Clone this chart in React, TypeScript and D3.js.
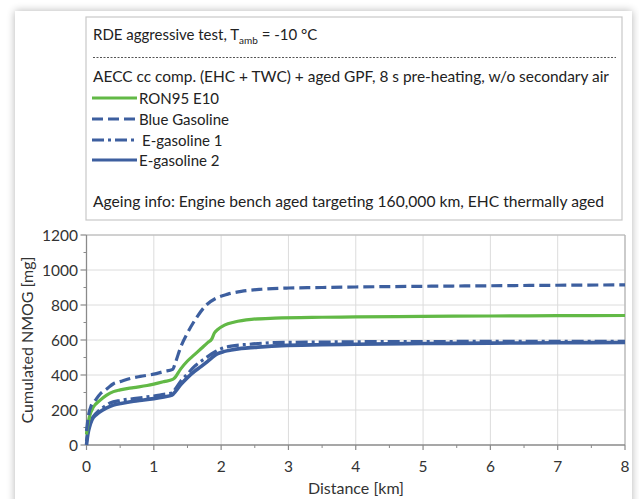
import React from "react";
import * as d3 from "d3";

type P = [number, number];

const xTicks = [0, 1, 2, 3, 4, 5, 6, 7, 8];
const yTicks = [0, 200, 400, 600, 800, 1000, 1200];

const ron95E10: P[] = [
  [0, 60], [0.005, 80], [0.02, 115], [0.05, 170], [0.1, 215], [0.2, 255], [0.3, 285], [0.4, 305],
  [0.5, 315], [0.7, 328], [0.9, 340], [1.0, 348], [1.15, 362], [1.28, 375], [1.3, 380],
  [1.4, 435], [1.5, 480], [1.6, 515], [1.7, 550], [1.8, 585], [1.86, 605], [1.9, 640],
  [1.95, 660], [2.05, 685], [2.2, 703], [2.45, 718], [2.8, 725], [3.5, 730], [4, 732],
  [5, 735], [6, 737], [7, 739], [8, 740],
];

const blueGasoline: P[] = [
  [0, 80], [0.03, 170], [0.07, 225], [0.12, 250], [0.2, 290], [0.3, 320], [0.4, 350],
  [0.5, 362], [0.65, 380], [0.8, 392], [1.0, 405], [1.15, 420], [1.28, 432], [1.32, 470],
  [1.4, 560], [1.5, 640], [1.63, 725], [1.78, 800], [1.93, 840], [2.1, 862], [2.3, 878],
  [2.6, 890], [3.0, 897], [3.5, 900], [4, 903], [5, 907], [6, 910], [7, 913], [8, 915],
];

const eGasoline1: P[] = [
  [0, 20], [0.02, 80], [0.05, 130], [0.1, 162], [0.18, 195], [0.25, 215], [0.35, 240],
  [0.5, 255], [0.7, 265], [0.9, 275], [1.0, 280], [1.15, 290], [1.28, 298], [1.32, 320],
  [1.4, 365], [1.5, 405], [1.6, 448], [1.7, 478], [1.8, 505], [1.9, 530], [2.0, 550],
  [2.15, 565], [2.4, 575], [2.8, 585], [3.5, 588], [4, 590], [5, 591], [6, 592], [7, 592], [8, 593],
];

const eGasoline2: P[] = [
  [0, 0], [0.02, 60], [0.05, 110], [0.08, 143], [0.15, 175], [0.2, 190], [0.3, 212],
  [0.4, 228], [0.55, 240], [0.7, 250], [0.85, 257], [1.0, 265], [1.15, 275], [1.27, 285],
  [1.32, 305], [1.4, 345], [1.5, 385], [1.6, 419], [1.7, 448], [1.8, 478], [1.9, 510],
  [1.95, 522], [2.05, 535], [2.15, 543], [2.3, 552], [2.5, 558], [2.9, 568], [3.5, 573],
  [4, 576], [5, 580], [6, 582], [7, 584], [8, 586],
];

const GREEN = "#62b946";
const BLUE = "#3d5f9f";

const series = [
  { name: "RON95 E10", data: ron95E10, color: GREEN, dash: "none" },
  { name: "Blue Gasoline", data: blueGasoline, color: BLUE, dash: "11,5" },
  { name: "E-gasoline 1", data: eGasoline1, color: BLUE, dash: "12,4,3,4" },
  { name: "E-gasoline 2", data: eGasoline2, color: BLUE, dash: "none" },
];

const FONT = "Lato, 'Open Sans', sans-serif";

export default function App() {
  const W = 639, H = 499;
  const x = d3.scaleLinear().domain([0, 8]).range([86.5, 625]);
  const y = d3.scaleLinear().domain([0, 1200]).range([445, 235]);
  const line = d3.line<P>().x((d) => x(d[0])).y((d) => y(d[1])).curve(d3.curveMonotoneX);

  const xMinor = d3.range(0.5, 8, 1);
  const yMinor = d3.range(100, 1200, 200);

  const legendRows = [98, 119, 140, 160];
  const drawOrder = [3, 2, 0, 1];

  return (
    <svg width={W} height={H} style={{ position: "absolute", left: 0, top: 0 }} fontFamily={FONT}>
      <defs>
        <filter id="shadow" x="-5%" y="-5%" width="110%" height="110%">
          <feGaussianBlur in="SourceAlpha" stdDeviation="4" />
          <feOffset dx="0" dy="0" result="b" />
          <feComponentTransfer>
            <feFuncA type="linear" slope="0.3" />
          </feComponentTransfer>
          <feMerge>
            <feMergeNode />
            <feMergeNode in="SourceGraphic" />
          </feMerge>
        </filter>
      </defs>
      <rect x={0} y={0} width={W} height={H} fill="#ffffff" />
      <rect x={15} y={11} width={617} height={520} fill="#ffffff" filter="url(#shadow)" />

      {/* Legend box */}
      <rect x={86} y={17} width={536} height={203} fill="#fff" stroke="#c8c8c8" strokeWidth={1.2} />
      <text x={93} y={40} fontSize={15} fill="#222">
        RDE aggressive test, T
        <tspan fontSize={10} dy={4}>amb</tspan>
        <tspan dy={-4}> = -10 °C</tspan>
      </text>
      <line x1={93} x2={616} y1={57.5} y2={57.5} stroke="#555" strokeWidth={1} strokeDasharray="2,1.5" />
      <text x={93} y={82} fontSize={15} fill="#222" textLength={516} lengthAdjust="spacingAndGlyphs">
        AECC cc comp. (EHC + TWC) + aged GPF, 8 s pre-heating, w/o secondary air
      </text>
      {series.map((s, i) => (
        <g key={s.name}>
          <line x1={92} x2={137} y1={legendRows[i]} y2={legendRows[i]} stroke={s.color}
            strokeWidth={3.2} strokeDasharray={s.dash === "none" ? undefined : s.dash} />
          <text x={i === 2 ? 142 : 139} y={legendRows[i] + 5.5} fontSize={15} fill="#222">{s.name}</text>
        </g>
      ))}
      <text x={93} y={207} fontSize={15} fill="#222" textLength={511} lengthAdjust="spacingAndGlyphs">
        Ageing info: Engine bench aged targeting 160,000 km, EHC thermally aged
      </text>

      {/* Grid */}
      {xTicks.slice(1).map((t) => (
        <line key={"gx" + t} x1={x(t)} x2={x(t)} y1={y(1200)} y2={y(0)} stroke="#dcdcdc" strokeWidth={1} />
      ))}
      {yTicks.slice(1).map((t) => (
        <line key={"gy" + t} x1={x(0)} x2={x(8)} y1={y(t)} y2={y(t)} stroke="#dcdcdc" strokeWidth={1} />
      ))}
      <line x1={x(0)} x2={x(8)} y1={y(1200)} y2={y(1200)} stroke="#b4b4b4" strokeWidth={1.2} />
      <line x1={x(8)} x2={x(8)} y1={y(1200)} y2={y(0)} stroke="#b4b4b4" strokeWidth={1.2} />

      {/* Axes */}
      <line x1={x(0)} x2={x(0)} y1={y(1200)} y2={y(0)} stroke="#8a8a8a" strokeWidth={1.3} />
      <line x1={x(0)} x2={x(8)} y1={y(0)} y2={y(0)} stroke="#8a8a8a" strokeWidth={1.3} />
      {yTicks.map((t) => (
        <line key={"ty" + t} x1={x(0) - 6} x2={x(0)} y1={y(t)} y2={y(t)} stroke="#8a8a8a" strokeWidth={1.2} />
      ))}
      {yMinor.map((t) => (
        <line key={"tym" + t} x1={x(0) - 3} x2={x(0)} y1={y(t)} y2={y(t)} stroke="#8a8a8a" strokeWidth={1} />
      ))}
      {xTicks.map((t) => (
        <line key={"tx" + t} x1={x(t)} x2={x(t)} y1={y(0)} y2={y(0) + 5} stroke="#8a8a8a" strokeWidth={1.2} />
      ))}
      {xMinor.map((t) => (
        <line key={"txm" + t} x1={x(t)} x2={x(t)} y1={y(0)} y2={y(0) + 3} stroke="#8a8a8a" strokeWidth={1} />
      ))}
      {yTicks.map((t) => (
        <text key={"ly" + t} x={78} y={y(t) + 5.5} fontSize={15.5} textAnchor="end" fill="#333">{t}</text>
      ))}
      {xTicks.map((t) => (
        <text key={"lx" + t} x={x(t)} y={472} fontSize={15.5} textAnchor="middle" fill="#333">{t}</text>
      ))}
      <text x={356} y={494} fontSize={16} textAnchor="middle" fill="#333">Distance [km]</text>
      <text transform={`translate(33,${(y(0) + y(1200)) / 2}) rotate(-90)`} fontSize={16}
        textAnchor="middle" fill="#333">Cumulated NMOG [mg]</text>

      {/* Series */}
      {drawOrder.map((i) => {
        const s = series[i];
        return (
          <path key={"s" + s.name} d={line(s.data) || ""} fill="none" stroke={s.color}
            strokeWidth={i === 3 ? 3.6 : 3.2} strokeDasharray={s.dash === "none" ? undefined : s.dash}
            strokeLinejoin="round" />
        );
      })}
    </svg>
  );
}
